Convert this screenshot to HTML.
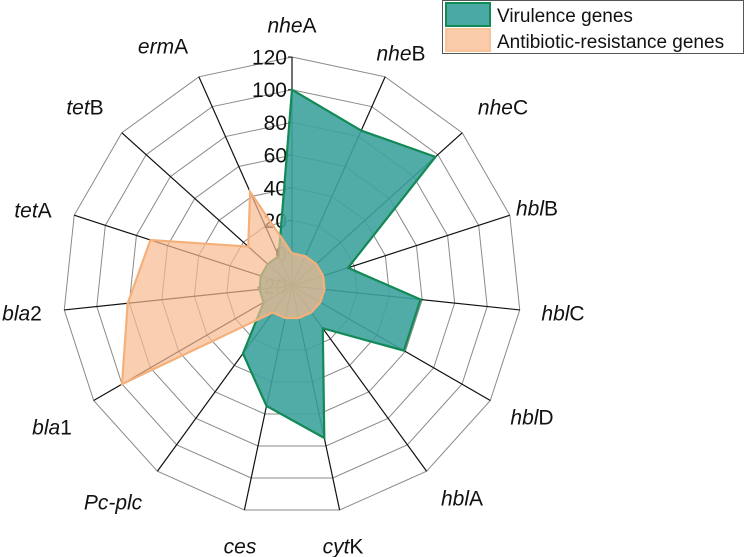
<!DOCTYPE html>
<html><head><meta charset="utf-8"><style>
html,body{margin:0;padding:0;background:#fff;}
svg{display:block;font-family:"Liberation Sans",Arial,sans-serif;}
</style></head><body>
<svg width="744" height="557" viewBox="0 0 744 557">
<g id="grid"></g>
<g id="ticks"></g>
<g id="series"></g>
<g id="labels"></g>
<g>
  <rect x="442.5" y="0.5" width="301" height="53" fill="#fff" stroke="#555" stroke-width="1"/>
  <rect x="446" y="3" width="44" height="23" fill="#4aa9a5" stroke="#138a56" stroke-width="2"/>
  <text x="497" y="22" font-size="19" fill="#111">Virulence genes</text>
  <rect x="446" y="29" width="44" height="22" fill="#f9cba8" stroke="#f7c39a" stroke-width="2"/>
  <text x="497" y="48" font-size="19" fill="#111">Antibiotic-resistance genes</text>
</g>
</svg>
<script>
const categories = ["nheA","nheB","nheC","hblB","hblC","hblD","hblA","cytK","ces","Pc-plc","bla1","bla2","tetA","tetB","ermA"];
const italicPart = ["nhe","nhe","nhe","hbl","hbl","hbl","hbl","cyt","ces","Pc-plc","bla","bla","tet","tet","erm"];
const plainPart = ["A","B","C","B","C","D","A","K","","","1","2","A","B","A"];
const virulence = [100,84,98,16,59,59,12,75,55,31,0,0,0,0,0];
const antibiotic = [0,0,0,0,0,0,0,0,0,0,100,81,71,16,43];
const tickValues = [-20,0,20,40,60,80,100,120];
const labelPos = [[292,25],[401,53],[503,107],[537,208],[563,313],[532,417],[462,498],[343,546],[240,546],[113,502],[52,427],[22,313],[33,210],[85,107],[163,46]];

const NS="http://www.w3.org/2000/svg";
const cx=292, cy=286, R=229, vMin=-20, vMax=120;
const n=categories.length;
function rScale(v){return (v-vMin)/(vMax-vMin)*R;}
function pt(i,v){const a=i*2*Math.PI/n;const r=rScale(v);return [cx+r*Math.sin(a), cy-r*Math.cos(a)];}
function mk(tag,attrs,parent){const e=document.createElementNS(NS,tag);for(const k in attrs)e.setAttribute(k,attrs[k]);parent.appendChild(e);return e;}

const grid=document.getElementById('grid');
tickValues.forEach(t=>{ if(t===vMin) return;
  const pts=categories.map((c,i)=>pt(i,t).join(',')).join(' ');
  const p=mk('polygon',{points:pts,fill:'none',stroke:'#8a8a8a','stroke-width':1},grid);
  
  
});
categories.forEach((c,i)=>{
  const e=pt(i,vMax);
  const l=mk('line',{x1:cx,y1:cy,x2:e[0],y2:e[1],stroke:'#111','stroke-width':1.2},grid);
  
  
});
const ticks=document.getElementById('ticks');
tickValues.forEach(t=>{
  const p=pt(0,t);
  const tx=mk('text',{x:287,y:p[1]+7.5,'font-size':21,'text-anchor':'end',fill:'#111'},ticks);
  tx.textContent=t;
  
  
  mk('line',{x1:288,y1:p[1],x2:292,y2:p[1],stroke:'#111','stroke-width':1},ticks);
});
const series=document.getElementById('series');
const vp=mk('polygon',{points:virulence.map((v,i)=>pt(i,v).join(',')).join(' '),fill:'#3ea29d','fill-opacity':0.9,stroke:'#138a56','stroke-width':2.2,'stroke-linejoin':'miter'},series);


const ap=mk('polygon',{points:antibiotic.map((v,i)=>pt(i,v).join(',')).join(' '),fill:'#f8ba90','fill-opacity':0.7,stroke:'#f5b07a','stroke-width':2.2},series);



const labels=document.getElementById('labels');
categories.forEach((c,i)=>{
  const t=mk('text',{x:labelPos[i][0],y:labelPos[i][1]+7.5,'font-size':21,'text-anchor':'middle',fill:'#111'},labels);
  const s1=mk('tspan',{'font-style':'italic'},t); s1.textContent=italicPart[i];
  if(plainPart[i]){const s2=mk('tspan',{},t); s2.textContent=plainPart[i];}
  
  
});
</script>
</body></html>
